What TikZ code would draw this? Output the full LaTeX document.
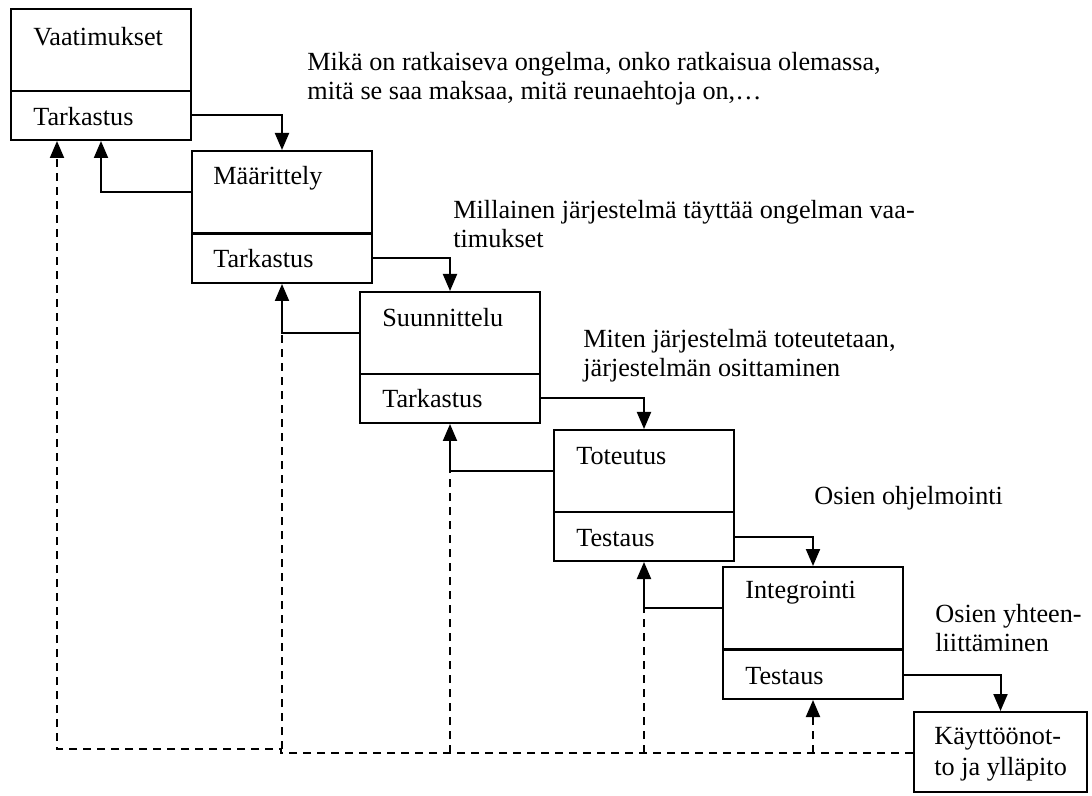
\documentclass[tikz,border=0pt]{standalone}
\usepackage{fontspec}
\setmainfont{Liberation Serif}
\usetikzlibrary{arrows.meta}
\begin{document}
\begin{tikzpicture}[x=0.5pt,y=-0.5pt,
  boxpart/.style={draw,line width=1pt,minimum width=90pt,inner sep=0pt,anchor=north west},
  boxtop/.style={boxpart,minimum height=41pt},
  boxbot/.style={boxpart,minimum height=24.5pt},
  steplabel/.style={anchor=west,inner sep=0pt,font=\fontsize{13.1}{15}\selectfont},
  remark/.style={anchor=west,inner sep=0pt,align=left,font=\fontsize{13.1}{14.5}\selectfont},
  fwd/.style={line width=1pt,-{Triangle[length=8.5pt,width=7pt]}},
  rework/.style={line width=1pt,dash pattern=on 4pt off 3pt},
  reworktip/.style={rework,-{Triangle[length=8.5pt,width=7pt]}},
]
\useasboundingbox (0,0) rectangle (1092,796);

% phase boxes: upper part (phase) and lower part (review / testing)
\node[boxtop] (u1) at (10,8) {};
\node[boxbot] (l1) at (10,90) {};
\node[boxtop] (u2) at (191,150) {};
\node[boxbot] (l2) at (191,233) {};
\node[boxtop] (u3) at (359,291) {};
\node[boxbot] (l3) at (359,373) {};
\node[boxtop] (u4) at (553,429) {};
\node[boxbot] (l4) at (553,511) {};
\node[boxtop] (u5) at (722,566) {};
\node[boxbot] (l5) at (722,649) {};
\node[boxpart,minimum width=86.5pt,minimum height=40pt] (u6) at (913,711) {};

% box labels
\node[steplabel] (n1) at (33,37) {Vaatimukset};
\node[steplabel] (c1) at (33,117) {Tarkastus};
\node[steplabel] (n2) at (213,178) {Määrittely};
\node[steplabel] (c2) at (213,259) {Tarkastus};
\node[steplabel] (n3) at (382,318) {Suunnittelu};
\node[steplabel] (c3) at (382,399) {Tarkastus};
\node[steplabel] (n4) at (576,456) {Toteutus};
\node[steplabel] (c4) at (576,538) {Testaus};
\node[steplabel] (n5) at (745,593) {Integrointi};
\node[steplabel] (c5) at (745,676) {Testaus};
\node[remark] (n6) at (934,754) {Käyttöönot-\\[1pt]to ja ylläpito};

% phase descriptions
\node[remark] (d1) at (307,79) {Mikä on ratkaiseva ongelma, onko ratkaisua olemassa,\\mitä se saa maksaa, mitä reunaehtoja on,…};
\node[remark] (d2) at (453,224) {Millainen järjestelmä täyttää ongelman vaa-\\timukset};
\node[remark] (d3) at (583,356) {Miten järjestelmä toteutetaan,\\järjestelmän osittaminen};
\node[remark] (d4) at (814,498) {Osien ohjelmointi};
\node[remark] (d5) at (935,628) {Osien yhteen-\\liittäminen};

% forward flow
\draw[fwd] (l1.east) -| (u2.north);
\draw[fwd] (l2.east) -| (u3.north);
\draw[fwd] (l3.east) -| (u4.north);
\draw[fwd] (l4.east) -| (u5.north);
\draw[fwd] (l5.east) -| (u6.north);

% feedback to the previous phase
\draw[fwd] (u2.west) -| (l1.south);
\draw[fwd] (u3.west) -| (l2.south);
\draw[fwd] (u4.west) -| (l3.south);
\draw[fwd] (u5.west) -| (l4.south);

% rework paths from deployment back to earlier phases
\coordinate (r1) at (281,753);
\coordinate (r0) at (281,749);
\coordinate (s0) at (57,749);
\draw[reworktip] (u6.west |- r1) -- (r1) -- (r0) -- (s0) -- (s0 |- l1.south);
\draw[rework] (l2.south |- r0) -- (l2.south |- u3.west);
\draw[rework] (l3.south |- r1) -- (l3.south |- u4.west);
\draw[rework] (l4.south |- r1) -- (l4.south |- u5.west);
\draw[reworktip] (l5.south |- r1) -- (l5.south);
\end{tikzpicture}
\end{document}
